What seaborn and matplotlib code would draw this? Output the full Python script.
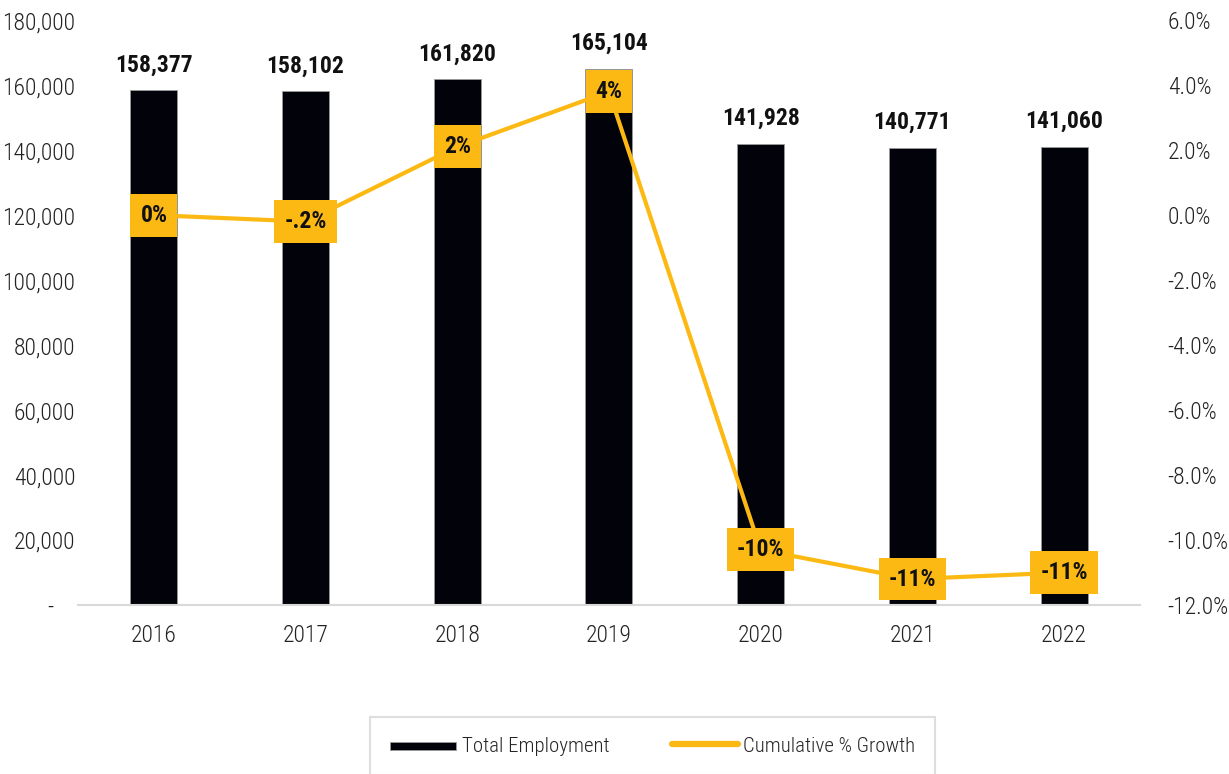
import matplotlib
matplotlib.use("Agg")
import matplotlib.pyplot as plt
from matplotlib.ticker import FuncFormatter
import seaborn as sns
import pandas as pd

years = ["2016", "2017", "2018", "2019", "2020", "2021", "2022"]
employment = [158377, 158102, 161820, 165104, 141928, 140771, 141060]
growth_pct = [0.0, -0.2, 2.1, 3.8, -10.3, -11.2, -11.0]

BAR_COLOR = "#02020A"
LINE_COLOR = "#FDB913"

sns.set_theme(style="white")
plt.rcParams["font.family"] = ["Roboto Condensed", "Liberation Sans Narrow", "DejaVu Sans"]

df = pd.DataFrame({"year": years, "employment": employment, "growth": growth_pct})
df["pos"] = range(len(years))

fig = plt.figure(figsize=(12.29, 7.74), dpi=100)
ax = fig.add_axes([0.0635, 0.2183, 0.864, 0.7557])

sns.barplot(data=df, x="year", y="employment", color=BAR_COLOR, width=0.31,
            saturation=1, ax=ax, label="Total Employment", legend=False)
for p in ax.patches:
    p.set_edgecolor("#9a9a9a")
    p.set_linewidth(0.6)
if ax.get_legend() is not None:
    ax.get_legend().remove()

ax.set_ylim(0, 180000)
ax.set_xlim(-0.5, len(years) - 0.5)
ax.set_yticks(range(0, 180001, 20000))
ax.yaxis.set_major_formatter(FuncFormatter(lambda v, _: "-    " if v == 0 else f"{int(v):,}"))
ax.set_xlabel("")
ax.set_ylabel("")
ax.tick_params(axis="both", labelsize=17, colors="#222222", length=0)
ax.tick_params(axis="x", pad=14)
ax.tick_params(axis="y", pad=2)
for side in ["top", "right", "left"]:
    ax.spines[side].set_visible(False)
ax.spines["bottom"].set_color("#d9d9d9")
ax.spines["bottom"].set_linewidth(1.5)

for i, v in enumerate(employment):
    ax.text(i, v + 4200, f"{v:,}", ha="center", va="bottom", fontsize=17,
            fontweight="bold", color="#111111")

ax2 = ax.twinx()
sns.lineplot(data=df, x="pos", y="growth", color=LINE_COLOR, linewidth=3.0,
             ax=ax2, label="Cumulative % Growth", legend=False)
ax2.set_ylim(-12, 6)
ax2.set_xlim(-0.5, len(years) - 0.5)
ax2.set_yticks(range(-12, 7, 2))
ax2.yaxis.set_major_formatter(FuncFormatter(lambda v, _: f"{v:.1f}%"))
ax2.set_ylabel("")
ax2.set_xlabel("")
ax2.tick_params(axis="y", labelsize=17, colors="#222222", length=0, pad=20)
for side in ["top", "right", "left", "bottom"]:
    ax2.spines[side].set_visible(False)

for lbl in ax.get_xticklabels() + ax.get_yticklabels() + ax2.get_yticklabels():
    lbl.set_fontweight("light")


def pct_label(v):
    if v == 0:
        return "0%"
    if abs(v) < 1:
        return ("-" if v < 0 else "") + f"{abs(v):.1f}%".lstrip("0")
    return f"{round(v):d}%"


for i, g in enumerate(growth_pct):
    ax2.text(i, g, pct_label(g), ha="center", va="center", fontsize=17,
             fontweight="bold", color="#111111",
             bbox=dict(boxstyle="square,pad=0.42", fc=LINE_COLOR, ec="none"))

h1, l1 = ax.get_legend_handles_labels()
h2, l2 = ax2.get_legend_handles_labels()
leg = fig.legend(h1 + h2, l1 + l2, loc="center", bbox_to_anchor=(0.531, 0.036),
                 ncol=2, frameon=True, fontsize=15, handlelength=3.2,
                 handletextpad=0.25, columnspacing=3.0, borderpad=0.95,
                 fancybox=False)
leg.get_frame().set_edgecolor("#d6d6d6")
leg.get_frame().set_linewidth(1.5)
for t in leg.get_texts():
    t.set_fontweight("light")
for h in leg.legend_handles:
    if hasattr(h, "set_height"):
        h.set_height(6)
        h.set_y(1)
    elif hasattr(h, "set_linewidth"):
        h.set_linewidth(4.5)
        h.set_solid_capstyle("round")

fig.savefig("out.png", dpi=100)
